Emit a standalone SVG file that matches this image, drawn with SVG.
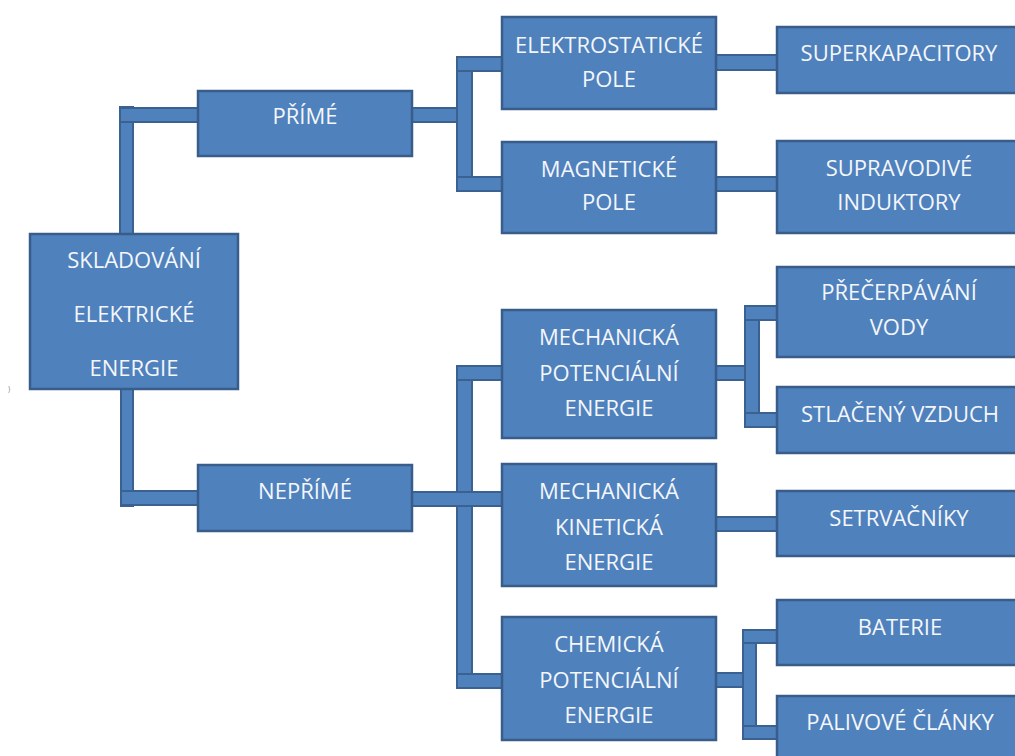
<svg xmlns="http://www.w3.org/2000/svg" width="1015" height="756" viewBox="0 0 1015 756">
<style>
.box{fill:#4f81bd;stroke:#385d8a;stroke-width:2.5}
.bar{fill:#4f81bd;stroke:#3a6190;stroke-width:2}
.t{font-family:"Open Sans","Liberation Sans",sans-serif;font-size:22px;fill:#f4f6fa;text-anchor:middle}
</style>
<rect width="1015" height="756" fill="#ffffff"/>
<g id="connectors">
<rect class="bar" x="120" y="107" width="13" height="128"/>
<rect class="bar" x="120" y="108" width="78" height="14"/>
<rect class="bar" x="121" y="388" width="12" height="118"/>
<rect class="bar" x="121" y="491" width="77" height="14"/>
<rect class="bar" x="411" y="108" width="53" height="14"/>
<rect class="bar" x="457" y="57" width="15" height="134"/>
<rect class="bar" x="457" y="57" width="45" height="14"/>
<rect class="bar" x="457" y="177" width="45" height="14"/>
<rect class="bar" x="715" y="55" width="62" height="15"/>
<rect class="bar" x="715" y="177" width="62" height="14"/>
<rect class="bar" x="457" y="366" width="15" height="322"/>
<rect class="bar" x="457" y="366" width="45" height="14"/>
<rect class="bar" x="457" y="674" width="45" height="14"/>
<rect class="bar" x="411" y="492" width="91" height="14"/>
<rect class="bar" x="715" y="366" width="38" height="14"/>
<rect class="bar" x="745" y="306" width="14" height="121"/>
<rect class="bar" x="745" y="306" width="32" height="14"/>
<rect class="bar" x="745" y="413" width="32" height="14"/>
<rect class="bar" x="715" y="517" width="62" height="14"/>
<rect class="bar" x="715" y="673" width="36" height="14"/>
<rect class="bar" x="743" y="630" width="13" height="109"/>
<rect class="bar" x="743" y="630" width="34" height="13"/>
<rect class="bar" x="743" y="726" width="34" height="13"/>
</g>
<g id="n-skladovani">
<rect class="box" x="30" y="234" width="208" height="155"/>
<text class="t" x="134" y="268">SKLADOVÁNÍ</text>
<text class="t" x="134" y="322">ELEKTRICKÉ</text>
<text class="t" x="134" y="376">ENERGIE</text>
</g>
<g id="n-prime">
<rect class="box" x="198" y="91" width="214" height="65"/>
<text class="t" x="305" y="124">PŘÍMÉ</text>
</g>
<g id="n-neprime">
<rect class="box" x="198" y="465" width="214" height="66"/>
<text class="t" x="305" y="499">NEPŘÍMÉ</text>
</g>
<g id="n-elektrostaticke">
<rect class="box" x="502" y="17" width="214" height="92"/>
<text class="t" x="609" y="53">ELEKTROSTATICKÉ</text>
<text class="t" x="609" y="87">POLE</text>
</g>
<g id="n-magneticke">
<rect class="box" x="502" y="142" width="214" height="91"/>
<text class="t" x="609" y="177">MAGNETICKÉ</text>
<text class="t" x="609" y="210">POLE</text>
</g>
<g id="n-superkapacitory">
<rect class="box" x="777" y="27" width="243" height="66"/>
<text class="t" x="899" y="61">SUPERKAPACITORY</text>
</g>
<g id="n-supravodive">
<rect class="box" x="777" y="141" width="243" height="92"/>
<text class="t" x="899" y="176">SUPRAVODIVÉ</text>
<text class="t" x="899" y="210">INDUKTORY</text>
</g>
<g id="n-mech-pot">
<rect class="box" x="502" y="310" width="214" height="128"/>
<text class="t" x="609" y="345">MECHANICKÁ</text>
<text class="t" x="609" y="381">POTENCIÁLNÍ</text>
<text class="t" x="609" y="416">ENERGIE</text>
</g>
<g id="n-precerpavani">
<rect class="box" x="777" y="267" width="243" height="90"/>
<text class="t" x="899" y="300">PŘEČERPÁVÁNÍ</text>
<text class="t" x="899" y="335">VODY</text>
</g>
<g id="n-stlaceny">
<rect class="box" x="777" y="387" width="243" height="66"/>
<text class="t" x="900" y="422">STLAČENÝ VZDUCH</text>
</g>
<g id="n-mech-kin">
<rect class="box" x="502" y="464" width="214" height="122"/>
<text class="t" x="609" y="499">MECHANICKÁ</text>
<text class="t" x="609" y="535">KINETICKÁ</text>
<text class="t" x="609" y="570">ENERGIE</text>
</g>
<g id="n-setrvacniky">
<rect class="box" x="777" y="491" width="243" height="65"/>
<text class="t" x="899" y="526">SETRVAČNÍKY</text>
</g>
<g id="n-chem">
<rect class="box" x="502" y="617" width="214" height="123"/>
<text class="t" x="609" y="652">CHEMICKÁ</text>
<text class="t" x="609" y="688">POTENCIÁLNÍ</text>
<text class="t" x="609" y="723">ENERGIE</text>
</g>
<g id="n-baterie">
<rect class="box" x="777" y="600" width="243" height="65"/>
<text class="t" x="900" y="635">BATERIE</text>
</g>
<g id="n-palivove">
<rect class="box" x="777" y="696" width="243" height="70"/>
<text class="t" x="900" y="730">PALIVOVÉ ČLÁNKY</text>
</g>
<text x="8" y="391" font-family="Liberation Sans, sans-serif" font-size="7" fill="#8a8a8a">)</text>
</svg>
